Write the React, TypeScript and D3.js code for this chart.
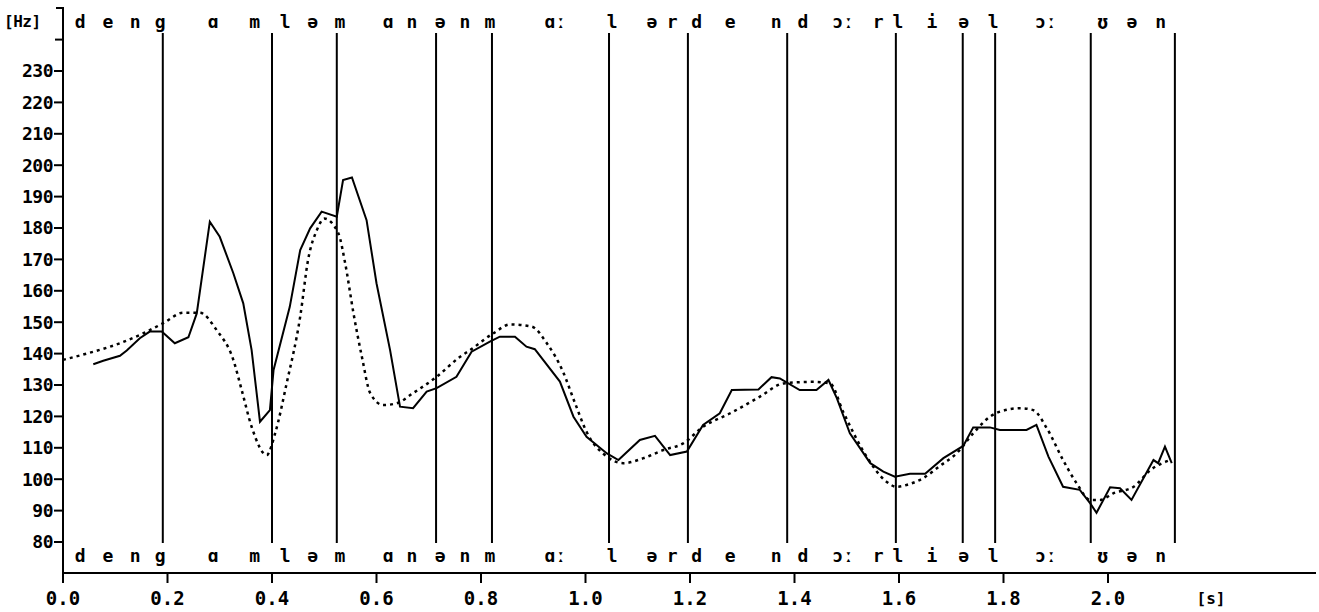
import React from "react";
import * as d3 from "d3";

// segment boundaries (s)
const boundaries = [0.191, 0.4, 0.524, 0.714, 0.821, 1.045, 1.196, 1.386, 1.594, 1.722, 1.784, 1.967, 2.128];

// phoneme labels and their positions (s)
const phonemes = ["d", "e", "n", "g", "ɑ", "m", "l", "ə", "m", "ɑ", "n", "ə", "n", "m", "ɑː", "l", "ə", "r", "d", "e", "n", "d", "ɔː", "r", "l", "i", "ə", "l", "ɔː", "ʊ", "ə", "n"];
const phonemePos = [0.033, 0.086, 0.138, 0.186, 0.287, 0.367, 0.425, 0.478, 0.53, 0.622, 0.668, 0.722, 0.769, 0.817, 0.942, 1.051, 1.127, 1.166, 1.213, 1.277, 1.365, 1.416, 1.493, 1.56, 1.598, 1.663, 1.724, 1.78, 1.881, 1.99, 2.046, 2.101];

const xTicks = [0, 0.2, 0.4, 0.6, 0.8, 1.0, 1.2, 1.4, 1.6, 1.8, 2.0];
const yTicks = [80, 90, 100, 110, 120, 130, 140, 150, 160, 170, 180, 190, 200, 210, 220, 230];

// measured F0 (solid): [time s, Hz]
const measured: [number, number][] = [
	[0.058, 136.6], [0.077, 137.7], [0.109, 139.3], [0.122, 141], [0.147, 144.9], [0.166, 147], [0.189, 147],
	[0.214, 143.3], [0.24, 145.2], [0.256, 152.8], [0.281, 182], [0.3, 177.2], [0.326, 165.6], [0.345, 156],
	[0.361, 141.1], [0.377, 118.3], [0.396, 122], [0.403, 134.8], [0.434, 154.9], [0.454, 173], [0.473, 179.9],
	[0.495, 185.2], [0.524, 183.6], [0.536, 195.3], [0.553, 196.1], [0.581, 182.5], [0.6, 162.4], [0.626, 141.1],
	[0.645, 123.1], [0.67, 122.6], [0.696, 127.9], [0.715, 129], [0.753, 132.6], [0.782, 140.6], [0.817, 143.8],
	[0.836, 145.4], [0.865, 145.4], [0.887, 142.2], [0.903, 141.4], [0.951, 131.1], [0.977, 119.9], [1.002, 113.5],
	[1.041, 108.2], [1.063, 106.1], [1.104, 112.5], [1.133, 113.8], [1.162, 107.7], [1.194, 108.8], [1.225, 117.3],
	[1.257, 121], [1.28, 128.4], [1.331, 128.6], [1.356, 132.5], [1.372, 132.1], [1.41, 128.4], [1.442, 128.4],
	[1.465, 131.6], [1.481, 125.8], [1.506, 114.6], [1.545, 105.1], [1.57, 102.4], [1.592, 100.8], [1.621, 101.7],
	[1.65, 101.7], [1.685, 106.7], [1.723, 110.6], [1.742, 116.5], [1.774, 116.5], [1.793, 115.7], [1.844, 115.7],
	[1.863, 117.3], [1.886, 107.2], [1.914, 97.6], [1.946, 96.6], [1.966, 92.3], [1.978, 89.3], [2.004, 97.4],
	[2.023, 97.1], [2.045, 93.4], [2.087, 106.1], [2.096, 105.1], [2.109, 110.4], [2.122, 105.1],
];

// model contour (dotted)
const model: [number, number][] = [
	[0.0, 138], [0.058, 140.6], [0.109, 143.3], [0.154, 146.5], [0.192, 149.7], [0.23, 153], [0.262, 153],
	[0.294, 147.5], [0.326, 138], [0.342, 128.4], [0.361, 116.7], [0.39, 107.7], [0.406, 114.6], [0.428, 130.5],
	[0.454, 151.8], [0.469, 169.8], [0.486, 179.4], [0.5, 183], [0.527, 178.3], [0.54, 168.8], [0.556, 152.8],
	[0.572, 139], [0.588, 127.4], [0.613, 123.6], [0.639, 124.2], [0.67, 127.4], [0.715, 132.6], [0.76, 139],
	[0.779, 141.1], [0.824, 146.5], [0.856, 149.3], [0.897, 148.6], [0.926, 143.3], [0.957, 134.2], [0.98, 124.2],
	[1.002, 115.1], [1.041, 107.2], [1.072, 105.1], [1.111, 106.7], [1.149, 109.3], [1.187, 111.4], [1.225, 116.7],
	[1.277, 121], [1.334, 126.3], [1.379, 130.5], [1.436, 131], [1.468, 130.5], [1.493, 121.5], [1.538, 107.2],
	[1.576, 99.2], [1.595, 97.6], [1.621, 98.5], [1.646, 100.3], [1.678, 104.2], [1.71, 108.2], [1.742, 114.6],
	[1.774, 119.9], [1.793, 121.5], [1.832, 122.6], [1.857, 122], [1.883, 116.2], [1.914, 106.1], [1.94, 98.7],
	[1.966, 93.4], [1.985, 93.4], [2.01, 95.5], [2.049, 97.6], [2.081, 102.9], [2.119, 106.1],
];

const W = 1319;
const H = 612;
const FONT = "'DejaVu Sans Mono', monospace";

export default function App() {
	const x0 = 63;
	const xScale = d3.scaleLinear().domain([0, 2.4]).range([x0, x0 + 2.4 * 522.5]);
	const yScale = d3.scaleLinear().domain([80, 230]).range([542, 71]);
	const axisY = 573;

	const line = d3
		.line<[number, number]>()
		.x((d) => xScale(d[0]))
		.y((d) => yScale(d[1]));
	const smooth = d3
		.line<[number, number]>()
		.x((d) => xScale(d[0]))
		.y((d) => yScale(d[1]))
		.curve(d3.curveMonotoneX);

	return (
		<svg width={W} height={H} style={{ position: "absolute", left: 0, top: 0, background: "#fff" }}>
			{/* y axis with bracket */}
			<line x1={x0} x2={x0} y1={7} y2={583} stroke="#000" strokeWidth={2} />
			<line x1={x0 - 7} x2={x0} y1={8} y2={8} stroke="#000" strokeWidth={2} />
			<line x1={x0 - 8} x2={x0} y1={yScale(240)} y2={yScale(240)} stroke="#000" strokeWidth={2} />
			{yTicks.map((t) => (
				<g key={t}>
					<line x1={x0 - 9} x2={x0} y1={yScale(t)} y2={yScale(t)} stroke="#000" strokeWidth={2} />
					<text x={x0 - 10} y={yScale(t)} dy="0.36em" textAnchor="end" fontFamily={FONT} fontWeight="bold" fontSize={18} letterSpacing={-0.5}>
						{t}
					</text>
				</g>
			))}
			<text x={4} y={27} fontFamily={FONT} fontWeight="bold" fontSize={16} letterSpacing={-0.5}>
				[Hz]
			</text>

			{/* x axis */}
			<line x1={x0} x2={1316} y1={axisY} y2={axisY} stroke="#000" strokeWidth={2} />
			{xTicks.map((t) => (
				<g key={t}>
					<line x1={xScale(t)} x2={xScale(t)} y1={axisY} y2={axisY + 10} stroke="#000" strokeWidth={2} />
					<text x={xScale(t)} y={605} textAnchor="middle" fontFamily={FONT} fontWeight="bold" fontSize={19}>
						{t.toFixed(1)}
					</text>
				</g>
			))}
			<text x={1211} y={604} textAnchor="middle" fontFamily={FONT} fontWeight="bold" fontSize={16}>
				[s]
			</text>

			{/* segment boundaries */}
			{boundaries.map((b, i) => (
				<line key={i} x1={xScale(b)} x2={xScale(b)} y1={33} y2={543} stroke="#000" strokeWidth={2} />
			))}

			{/* phoneme labels top and bottom */}
			{phonemes.map((p, i) => (
				<g key={i} fontFamily={FONT} fontWeight="bold" fontSize={18} textAnchor="middle">
					<text x={xScale(phonemePos[i])} y={28}>
						{p}
					</text>
					<text x={xScale(phonemePos[i])} y={562}>
						{p}
					</text>
				</g>
			))}

			{/* curves */}
			<path d={smooth(model) ?? ""} fill="none" stroke="#000" strokeWidth={2.5} strokeDasharray="3 4" />
			<path d={line(measured) ?? ""} fill="none" stroke="#000" strokeWidth={2} />
		</svg>
	);
}
